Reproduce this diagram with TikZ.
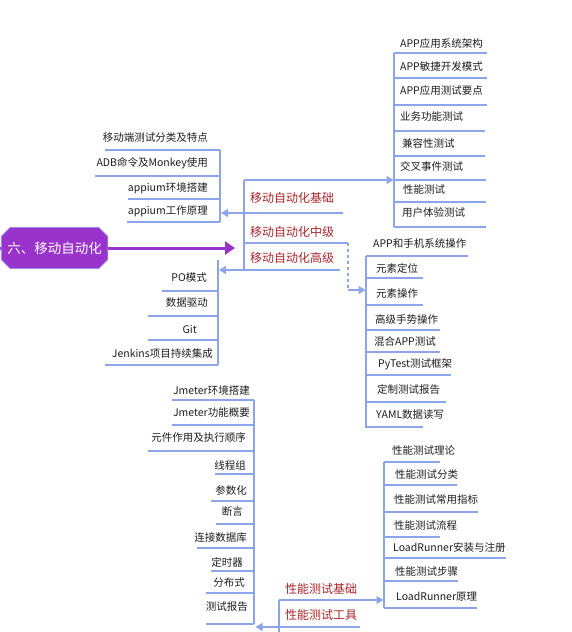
\documentclass[tikz,border=0pt]{standalone}
\usepackage{fontspec}
\newfontfamily\cjk{Noto Sans CJK SC}
\usetikzlibrary{arrows.meta,shapes.misc}
\definecolor{linkblue}{RGB}{140,164,233}
\definecolor{rootpurple}{RGB}{153,51,204}
\definecolor{rootedge}{RGB}{150,140,232}
\definecolor{topicred}{RGB}{168,38,42}
\definecolor{itemgray}{RGB}{28,28,28}
\tikzset{
  root/.style={chamfered rectangle, chamfered rectangle xsep=6pt, draw=rootedge,
    line width=0.8pt, fill=rootpurple, text=white, minimum width=103pt,
    minimum height=41pt, inner sep=0pt, font=\cjk\fontsize{13.5}{15}\selectfont},
  rootline/.style={rootpurple, line width=3pt},
  topic/.style={anchor=west, inner sep=0pt, text=topicred,
    font=\cjk\fontsize{12}{14}\selectfont},
  item/.style={inner sep=0pt, text=itemgray, font=\cjk\fontsize{10.5}{12}\selectfont},
  link/.style={linkblue, line width=1.4pt},
  tolist/.style={link, -{Triangle[length=7pt,width=8pt]}},
}
\begin{document}
\begin{tikzpicture}[x=1pt, y=-1pt]
  \useasboundingbox (0,0) rectangle (572,632);
  % root
  \coordinate (rootin) at (0,248);
  \coordinate (hubin) at (235,248);
  \draw[rootline] (rootin) -- (54,248);
  \node[root] (root) at (54.5,248) {六、移动自动化};
  \draw[rootline, -{Triangle[length=10pt,width=13pt]}] (root.east) -- (hubin);

  % mobile automation
  \node[topic] (mbase) at (250,198) {移动自动化基础};
  \node[topic] (mmid) at (250,232) {移动自动化中级};
  \node[topic] (mhigh) at (250,258) {移动自动化高级};
  \coordinate (hubtop) at (244,180);
  \coordinate (hubbot) at (244,270);
  \coordinate (appin) at (393.5,180);
  \coordinate (mbaseend) at (343,213);
  \coordinate (mobin) at (221,213);
  \coordinate (mmidl) at (244,243);
  \coordinate (mmidr) at (348,243);
  \coordinate (mmidd) at (348,290);
  \coordinate (opin) at (365.5,290);
  \coordinate (mhighend) at (340,270);
  \coordinate (poin) at (219,270);
  \draw[link] (hubtop) -- (hubbot);
  \draw[tolist] (hubtop) -- (appin);
  \draw[tolist] (mbaseend) -- (mobin);
  \draw[link] (mmidl) -- (mmidr);
  \draw[link, dashed] (mmidr) -- (mmidd);
  \draw[tolist] (mmidd) -- (opin);
  \draw[tolist] (mhighend) -- (poin);

  % APP list
  \draw[link] (394,53) -- (394,227);
  \foreach \t/\x/\y/\ly/\lx [count=\i] in {APP应用系统架构/400/44/53/487,
      APP敏捷开发模式/400/67/78/487, APP应用测试要点/400/91/105/487,
      业务功能测试/400/117/131/485, 兼容性测试/402/143/156/485,
      交叉事件测试/400/166/180/486, 性能测试/403/189/202/486,
      用户体验测试/402/213/227/486}{
    \node[item, anchor=west] (app\i) at (\x,\y) {\t};
    \draw[link] (394,\ly) -- (\lx,\ly);
  }

  % mobile basics list
  \draw[link] (220,150) -- (220,222);
  \foreach \t/\x/\y/\ly/\lx [count=\i] in {移动端测试分类及特点/208/138/150/105,
      ADB命令及Monkey使用/208/163/176/95, appium环境搭建/208/188/199/128,
      appium工作原理/208/211/222/127}{
    \node[item, anchor=east] (mob\i) at (\x,\y) {\t};
    \draw[link] (220,\ly) -- (\lx,\ly);
  }

  % PO list
  \draw[link] (218,260) -- (218,365);
  \foreach \t/\x/\y/\ly/\lx [count=\i] in {PO模式/207/278/291/162,
      数据驱动/208/303/316/148, Git/197/329/340/148,
      Jenkins项目持续集成/213/354/365/105}{
    \node[item, anchor=east] (po\i) at (\x,\y) {\t};
    \draw[link] (218,\ly) -- (\lx,\ly);
  }

  % operation list
  \draw[link] (366,256) -- (366,428);
  \foreach \t/\x/\y/\ly/\lx [count=\i] in {APP和手机系统操作/373/243/256/468,
      元素定位/376/268/278/423, 元素操作/376/294/305/423,
      高级手势操作/375/319/330/440, 混合APP测试/374/342/352/440,
      PyTest测试框架/378/364/375/451, 定制测试报告/377/390/402/446,
      YAML数据读写/376/415/427/423}{
    \node[item, anchor=west] (op\i) at (\x,\y) {\t};
    \draw[link] (366,\ly) -- (\lx,\ly);
  }

  % performance testing
  \node[topic] (pbase) at (285,589) {性能测试基础};
  \node[topic] (ptool) at (285,615) {性能测试工具};
  \coordinate (phubtop) at (279,600);
  \coordinate (phubbot) at (279,632);
  \coordinate (perfin) at (383.5,600);
  \coordinate (ptoolend) at (360,627);
  \coordinate (jmin) at (255.5,627);
  \draw[link] (phubtop) -- (phubbot);
  \draw[tolist] (phubtop) -- (perfin);
  \draw[tolist] (ptoolend) -- (jmin);

  % Jmeter list
  \draw[link] (254,400) -- (254,624);
  \foreach \t/\x/\y/\ly/\lx [count=\i] in {Jmeter环境搭建/250/390/400/172,
      Jmeter功能概要/250/413/425/172, 元件作用及执行顺序/246/438/451/148,
      线程组/246/465/474/215, 参数化/247/490/501/211, 断言/243/512/524/216,
      连接数据库/247/538/548/197, 定时器/243/562/571/211,
      分布式/245/583/593/206, 测试报告/248/607/624/206}{
    \node[item, anchor=east] (jm\i) at (\x,\y) {\t};
    \draw[link] (254,\ly) -- (\lx,\ly);
  }

  % performance list
  \draw[link] (384,462) -- (384,608);
  \foreach \t/\x/\y/\ly/\lx [count=\i] in {性能测试理论/392/450/462/440,
      性能测试分类/395/475/485/457, 性能测试常用指标/394/500/512/478,
      性能测试流程/394/525/537/440, LoadRunner安装与注册/393/548/558/506,
      性能测试步骤/395/571/581/458, LoadRunner原理/396/597/608/477}{
    \node[item, anchor=west] (perf\i) at (\x,\y) {\t};
    \draw[link] (384,\ly) -- (\lx,\ly);
  }
\end{tikzpicture}
\end{document}
